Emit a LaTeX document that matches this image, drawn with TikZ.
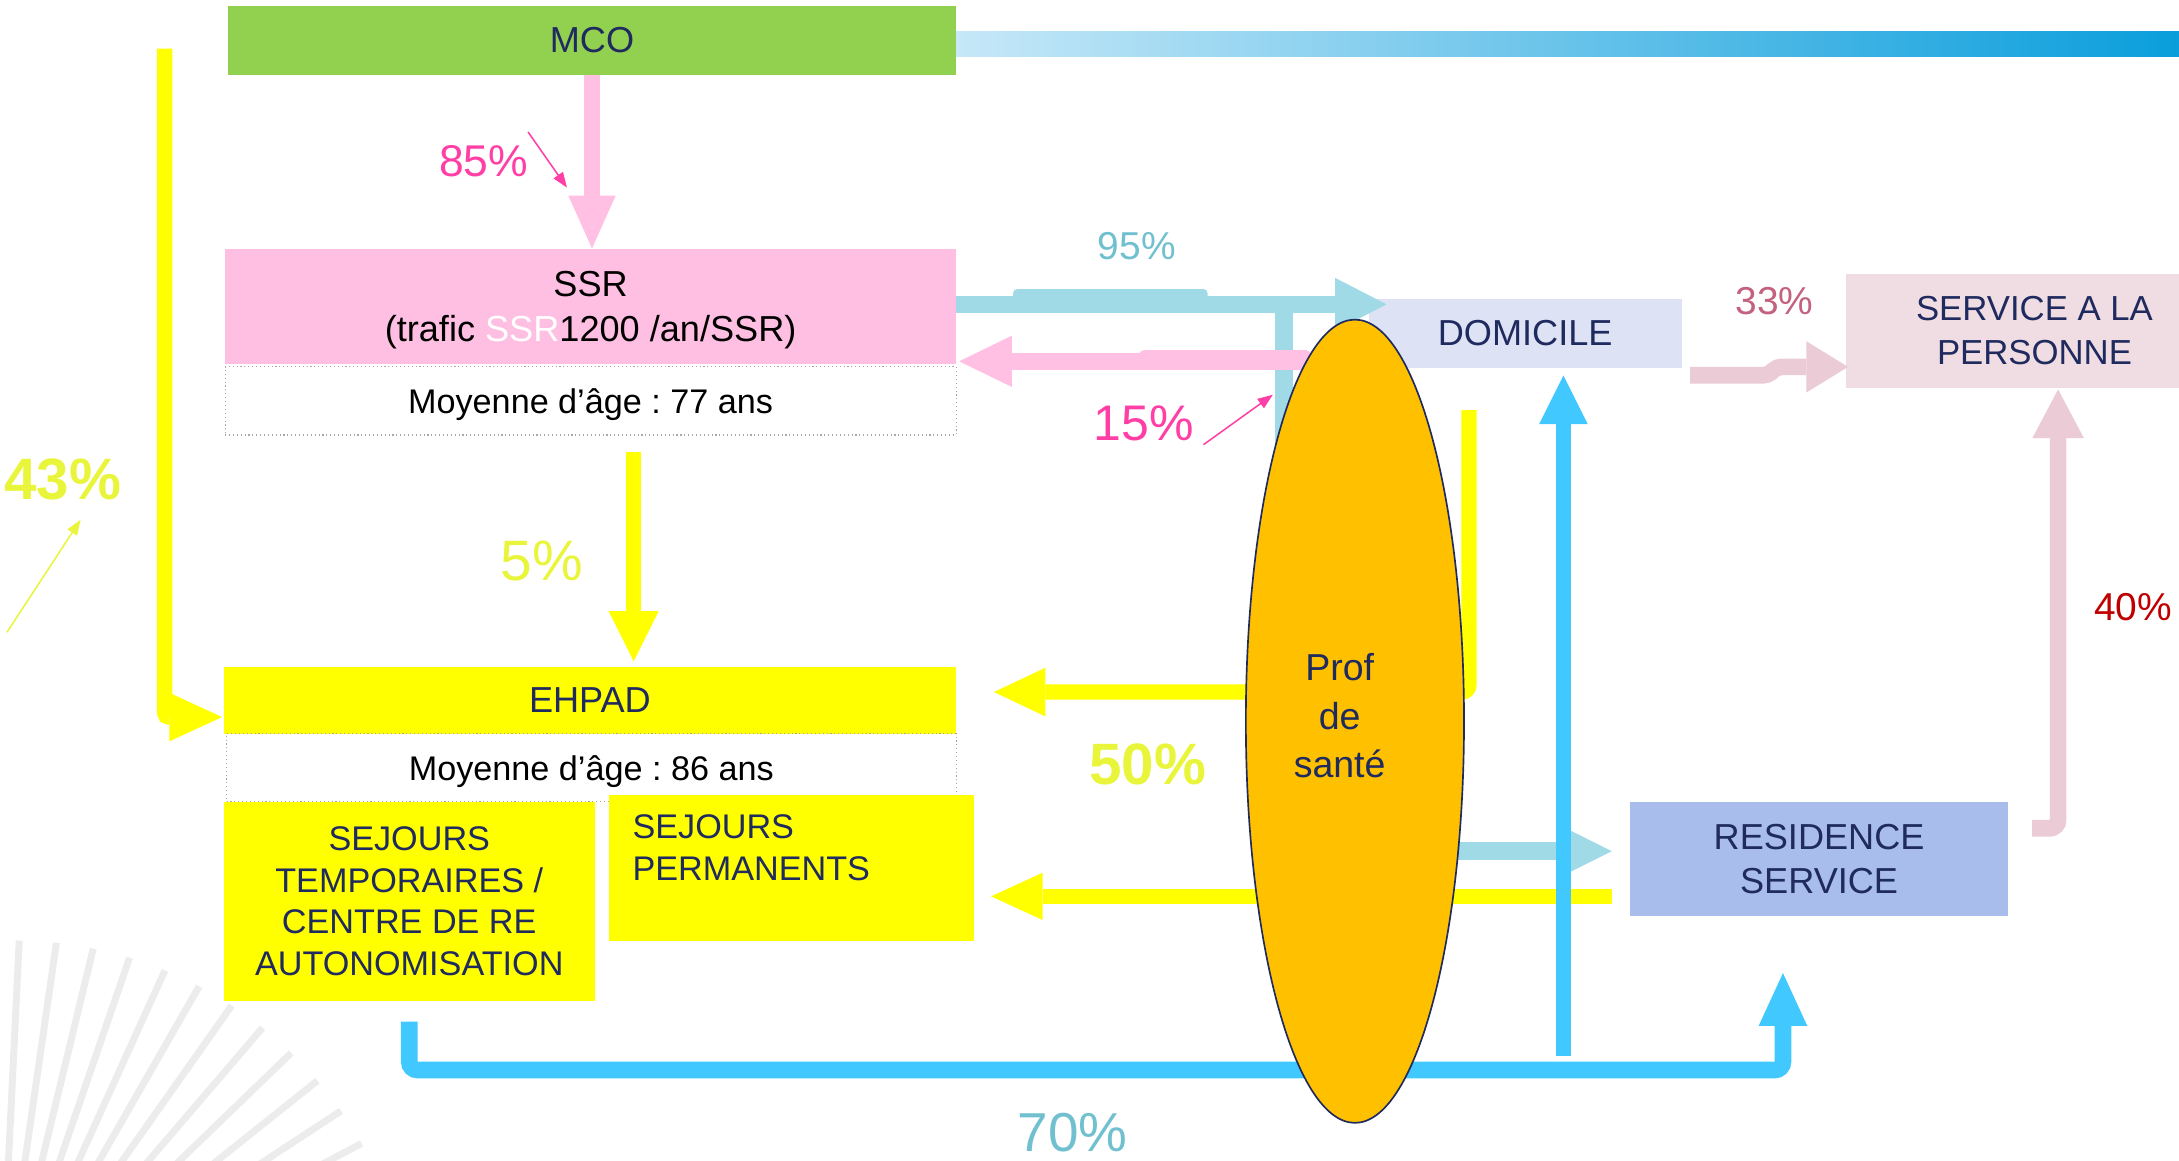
\documentclass[tikz,border=0pt]{standalone}
\usepackage{fontspec}
\setmainfont{Liberation Sans}
\usetikzlibrary{arrows.meta,shapes.geometric,calc}
\definecolor{navy}{HTML}{1F2A5E}
\definecolor{mcogreen}{HTML}{92D050}
\definecolor{ssrpink}{HTML}{FFBFE2}
\definecolor{pinkflow}{HTML}{FFC0E3}
\definecolor{hotpink}{HTML}{FF3FA6}
\definecolor{boxyellow}{HTML}{FFFF00}
\definecolor{lblyellow}{HTML}{E9F53B}
\definecolor{lbflow}{HTML}{9FDAE6}
\definecolor{cyanflow}{HTML}{40C8FF}
\definecolor{teallbl}{HTML}{70C0CF}
\definecolor{domfill}{HTML}{DDE3F5}
\definecolor{sapfill}{HTML}{F0DDE3}
\definecolor{mauveflow}{HTML}{EACBD6}
\definecolor{mauvelbl}{HTML}{C3627F}
\definecolor{darkredlbl}{HTML}{C00000}
\definecolor{resfill}{HTML}{A9BDEC}
\definecolor{proforange}{HTML}{FFC000}
\definecolor{gradL}{HTML}{C6E8F8}
\definecolor{gradR}{HTML}{0A9EDC}
\definecolor{raygray}{HTML}{ECECEC}
\newcommand{\fsz}[2]{\fontsize{#1pt}{#2pt}\selectfont}
\frenchspacing
\tikzset{
 box/.style={rectangle, inner sep=0pt, align=center, text=navy, font=\fsz{26}{32}},
 agebox/.style={rectangle, inner sep=0pt, fill=white, draw=gray!70, dotted, line width=0.8pt, text=black, font=\fsz{24.6}{30}, text depth=0pt},
 lbl/.style={inner sep=0pt},
 flow/.style n args={4}{draw=#1, line width=#2, -{Triangle[width=#3, length=#4, line width=0pt]}},
 thinarr/.style={line width=1.1pt, -{Triangle[width=8pt,length=11pt]}},
 ray/.style={draw=raygray, line width=5pt},
}
\begin{document}
\begin{tikzpicture}[x=1pt,y=-1pt]
\useasboundingbox (0,0) rectangle (1568,835);
% decorative rays
\foreach \a in {2.8,8.2,...,68} {
  \draw[ray] ({80*sin(\a)},{960-80*cos(\a)}) -- ({(283+0.18*\a)*sin(\a)},{960-(283+0.18*\a)*cos(\a)});
}
% gradient bar
\shade[left color=gradL, right color=gradR] (688,23) rectangle (1568,41);
% boxes
\node[box, fill=mcogreen, minimum width=524pt, minimum height=50pt] (mco) at (426,29) {MCO};
\node[box, fill=ssrpink, text=black, font=\fsz{26}{33}, minimum width=526pt, minimum height=83pt, text depth=0pt] (ssr) at (425,220.5) {SSR\\(trafic \textcolor{white}{SSR}1200 /an/SSR)};
\node[agebox, minimum width=526pt, minimum height=49pt] (ssrage) at (425,288.5) {Moyenne d’âge : 77 ans};
\node[box, fill=boxyellow, minimum width=527pt, minimum height=48pt] (ehpad) at (424.5,504) {EHPAD};
\node[box, fill=boxyellow, font=\fsz{24.6}{30}, minimum width=267pt, minimum height=143pt] (temp) at (294.5,648.5) {SEJOURS\\TEMPORAIRES /\\CENTRE DE RE\\AUTONOMISATION};
\node[agebox, minimum width=525pt, minimum height=49pt] (ehpadage) at (425.5,552.5) {Moyenne d’âge : 86 ans};
\node[box, fill=boxyellow, minimum width=263pt, minimum height=105pt] (perm) at (569.5,624.5) {};
\node[anchor=north west, align=left, text=navy, font=\fsz{24.6}{30}, inner sep=0pt] (permtext) at (455,586) {SEJOURS\\PERMANENTS};
\node[box, fill=domfill, minimum width=225pt, minimum height=50pt] (dom) at (1097.5,240) {DOMICILE};
\node[box, fill=sapfill, font=\fsz{25}{32}, minimum width=272pt, minimum height=82pt] (sap) at (1464,238) {SERVICE A LA\\PERSONNE};
\node[box, fill=resfill, minimum width=272pt, minimum height=82pt] (res) at (1309,618) {RESIDENCE\\SERVICE};
% flows
\draw[flow={pinkflow}{11pt}{34pt}{38pt}] (mco.south) -- (mco.south |- ssr.north);
\draw[flow={boxyellow}{11pt}{36pt}{36pt}] ($(ssrage.south)+(31,12)$) -- ($(ehpad.north)+(31.5,-4)$);
\coordinate (y43) at (118.5,35);
\draw[flow={boxyellow}{11pt}{35pt}{38pt}, rounded corners=3pt] (y43) -- (118.5,516) -- ($(ehpad.west)+(-1,12)$);
% 95 %
\fill[lbflow, rounded corners=3pt] (729,208) rectangle (869,219);
\draw[flow={lbflow}{12pt}{38pt}{37pt}] ($(ssr.east)+(0,-1.5)$) -- ($(dom.west)+(13,-21)$);
\coordinate (lbj) at (924,219);
\draw[flow={lbflow}{12.5pt}{30pt}{30pt}] (lbj) -- (924,612.5) -- ($(res.west)+(-13,-5.5)$);
% 15 %
\fill[pinkflow, rounded corners=3pt] (820,252) rectangle (943,262);
\draw[flow={pinkflow}{12pt}{37pt}{38pt}] ($(dom.west)+(-45,20)$) -- ($(ssr.east)+(2,39.5)$);
% 50 %
\draw[flow={boxyellow}{11pt}{35pt}{37pt}, rounded corners=5pt] ($(dom.south)+(-40.5,30)$) -- (1057,498) -- ($(ehpad.east)+(27,-6)$);
\draw[flow={boxyellow}{11pt}{34pt}{37pt}] ($(res.west)+(-13,27)$) -- ($(perm.east)+(12,20.5)$);
% 70 %
\draw[flow={cyanflow}{12pt}{35pt}{38pt}, rounded corners=6pt] ($(temp.south)+(0,15)$) -- (294.5,770) -- (1283,770) -- ($(res.south)+(-26,41)$);
\coordinate (cup) at (1125,760);
\draw[flow={cyanflow}{11pt}{35pt}{35pt}] (cup) -- ($(dom.south)+(27.5,5)$);
% 33 % and 40 %
\draw[flow={mauveflow}{12pt}{37pt}{30pt}, rounded corners=3pt] ($(dom.east)+(6,30)$) -- (1272,270) -- (1279,264) -- ($(sap.west)+(2,26)$);
\draw[flow={mauveflow}{12pt}{37pt}{35pt}, rounded corners=6pt] ($(res.east)+(17,-22)$) -- (1481,596) -- ($(sap.south)+(17,1)$);
% professional ellipse
\node[ellipse, draw=navy, line width=1.2pt, fill=proforange, minimum width=157pt, minimum height=578pt, inner sep=0pt] (prof) at (975,519) {};
\node[align=center, text=navy, font=\fsz{27}{35}, inner sep=0pt] (proftext) at (964,515) {Prof\\de\\santé};
% labels
\node[lbl, text=hotpink, font=\fsz{32}{32}] (l85) at (348,116) {85\%};
\coordinate (a85s) at (380,95); \coordinate (a85e) at (408,135);
\draw[thinarr, hotpink] (a85s) -- (a85e);
\node[lbl, text=teallbl, font=\fsz{28}{28}] (l95) at (818,177) {95\%};
\node[lbl, text=hotpink, font=\fsz{36}{36}] (l15) at (823,305) {15\%};
\coordinate (a15s) at (866,320); \coordinate (a15e) at (916,284);
\draw[thinarr, hotpink] (a15s) -- (a15e);
\node[lbl, text=mauvelbl, font=\fsz{28}{28}] (l33) at (1277,217) {33\%};
\node[lbl, text=darkredlbl, font=\fsz{28}{28}] (l40) at (1535,437) {40\%};
\node[lbl, text=lblyellow, font=\fsz{42}{42}\bfseries] (l43) at (45,345) {43\%};
\coordinate (a43s) at (5,455); \coordinate (a43e) at (58,374);
\draw[thinarr, lblyellow] (a43s) -- (a43e);
\node[lbl, text=lblyellow, font=\fsz{41}{41}] (l5) at (390,404) {5\%};
\node[lbl, text=lblyellow, font=\fsz{42}{42}\bfseries] (l50) at (826,550) {50\%};
\node[lbl, text=teallbl, font=\fsz{39.5}{40}] (l70) at (772,815) {70\%};
\end{tikzpicture}
\end{document}
